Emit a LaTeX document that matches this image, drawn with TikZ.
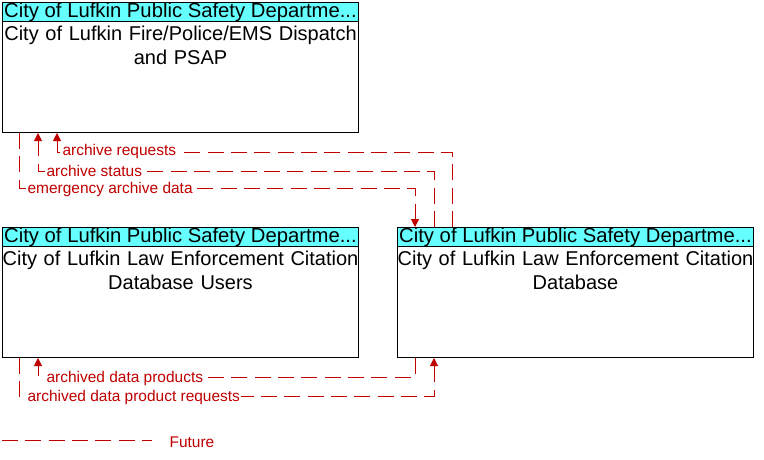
\documentclass[tikz,border=0pt]{standalone}
\usepackage{fontspec}
\setmainfont{Liberation Sans}
\usetikzlibrary{calc,arrows.meta}
\definecolor{flowred}{RGB}{192,0,0}
\definecolor{headcyan}{RGB}{102,255,255}
\tikzset{
  box/.style={draw=black, line width=0.75pt, fill=white, minimum width=267pt, minimum height=97.5pt, inner sep=0pt, anchor=north west},
  head/.style={draw=black, line width=0.75pt, fill=headcyan, minimum width=267pt, minimum height=14.25pt, inner sep=0pt, anchor=north west, font=\fontsize{15.2}{16}\selectfont},
  body/.style={text width=267pt, align=center, anchor=north, inner sep=0pt, font=\fontsize{15}{18}\selectfont},
  flow/.style={draw=flowred, line width=0.75pt, dash pattern=on 12pt off 5.5pt},
  tip/.style={-{Triangle[length=6pt,width=6pt]}},
  lbl/.style={text=flowred, fill=white, inner sep=1pt, anchor=west, font=\fontsize{11.6}{12}\selectfont}
}
\begin{document}
\begin{tikzpicture}[x=0.75pt,y=-0.75pt]
\useasboundingbox (0,0) rectangle (764,460);
% boxes
\node[box] (a) at (2,2) {};
\node[head] (ah) at (2,2) {City of Lufkin Public Safety Departme...};
\node[body] (at) at ($(a.north)+(0,24)$) {City of Lufkin Fire/Police/EMS Dispatch\\and PSAP};
\node[box] (b) at (2,227) {};
\node[head] (bh) at (2,227) {City of Lufkin Public Safety Departme...};
\node[body] (bt) at ($(b.north)+(0,24)$) {City of Lufkin Law Enforcement Citation\\Database Users};
\node[box] (c) at (397,227) {};
\node[head] (ch) at (397,227) {City of Lufkin Public Safety Departme...};
\node[body] (ct) at ($(c.north)+(0,24)$) {City of Lufkin Law Enforcement Citation\\Database};
% flows between a and c
\draw[flow,tip] ($(c.north west)+(55,0)$) |- ($(a.south west)+(55,19)$) -- ($(a.south west)+(55,0)$);
\node[lbl] (l1) at (61,152) {archive requests};
\draw[flow,tip] ($(c.north west)+(37,0)$) |- ($(a.south west)+(36,38)$) -- ($(a.south west)+(36,0)$);
\node[lbl] (l2) at (45,171) {archive status};
\draw[flow,tip] ($(a.south west)+(17,0)$) |- ($(c.north west)+(18,-39)$) -- ($(c.north west)+(18,0)$);
\node[lbl] (l3) at (26,190) {emergency archive data};
% flows between b and c
\draw[flow,tip] ($(c.south west)+(18,0)$) |- ($(b.south west)+(36,19)$) -- ($(b.south west)+(36,0)$);
\node[lbl] (l4) at (45,378) {archived data products};
\draw[flow,tip] ($(b.south west)+(17,0)$) |- ($(c.south west)+(37,38)$) -- ($(c.south west)+(37,0)$);
\node[lbl] (l5) at (26,397) {archived data product requests};
% legend
\coordinate (lg1) at (2,440);
\coordinate (lg2) at (152,440);
\draw[flow] (lg1) -- (lg2);
\node[lbl, fill=none] (lg) at (168,442) {Future};
\end{tikzpicture}
\end{document}
